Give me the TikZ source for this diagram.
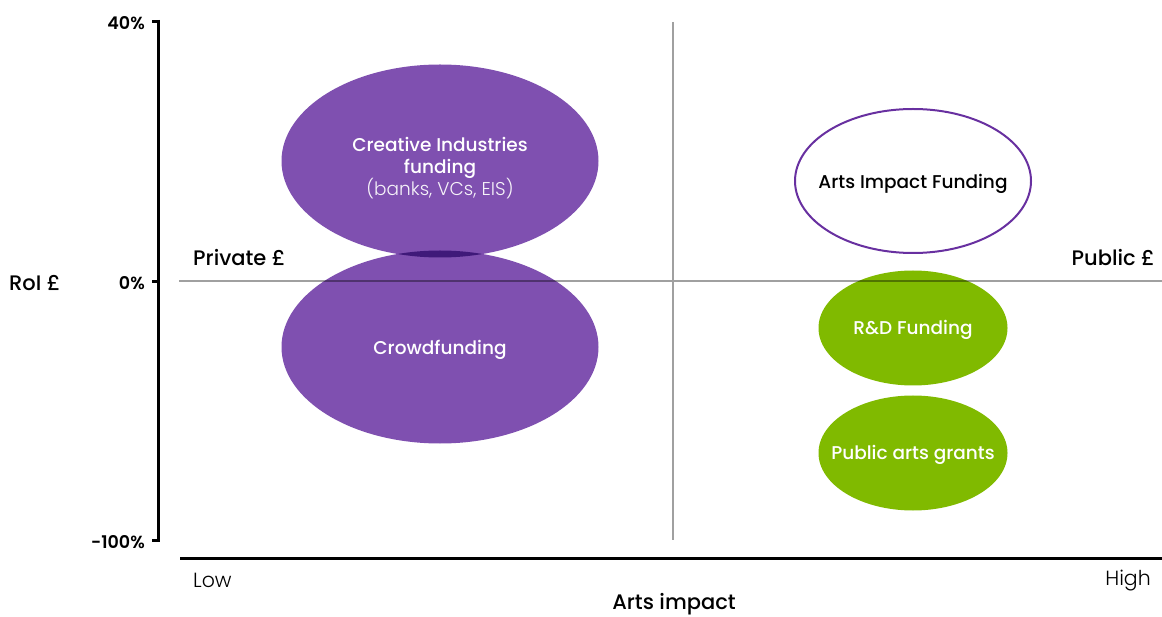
\documentclass[tikz,border=0pt]{standalone}
\usepackage{fontspec}
\setmainfont{Poppins}
\newfontfamily\med{Poppins Medium}
\newfontfamily\lite{Poppins Light}
\newfontfamily\semi{Poppins SemiBold}
\usetikzlibrary{shapes.geometric}
\definecolor{purp}{RGB}{127,80,176}
\definecolor{purpline}{RGB}{104,48,160}
\definecolor{grn}{RGB}{128,186,0}
\definecolor{gridgray}{RGB}{160,160,160}
\tikzset{
  lbl/.style={font=\med\fontsize{21}{24}\selectfont, inner sep=0pt, text=black},
  axnum/.style={font=\semi\fontsize{17.5}{20}\selectfont, inner sep=0pt, anchor=east},
  light/.style={font=\lite\fontsize{20.5}{24}\selectfont, inner sep=0pt, text=black},
  blob/.style={ellipse, inner sep=0pt},
  purpblob/.style={blob, fill=purp, blend mode=multiply},
  grnblob/.style={blob, fill=grn, blend mode=multiply},
  openblob/.style={ellipse, inner sep=0pt, draw=purpline, line width=2pt},
  blobtext/.style={inner sep=0pt, align=center, font=\med\fontsize{18.5}{22}\selectfont},
  axis/.style={line width=3pt, black},
  grid/.style={line width=1.3pt, gridgray}
}
\begin{document}
\begin{tikzpicture}[x=1pt,y=-1pt]
\useasboundingbox (0,0) rectangle (1162,617);
% grid lines
\coordinate (hl) at (179,281);
\coordinate (hr) at (1162,281);
\coordinate (vt) at (673,22);
\coordinate (vb) at (673,540);
\draw[grid] (hl) -- (hr);
\draw[grid] (vt) -- (vb);
% axes
\coordinate (yt) at (158,20);
\coordinate (yb) at (158,542);
\coordinate (xl) at (180,558);
\coordinate (xr) at (1162,558);
\draw[axis] (yt) -- (yb);
\draw[axis] (xl) -- (xr);
\coordinate (t1) at (152,21.5);
\coordinate (t1e) at (158,21.5);
\coordinate (t2) at (152,282);
\coordinate (t2e) at (158,282);
\coordinate (t3) at (152,540.5);
\coordinate (t3e) at (158,540.5);
\draw[axis] (t1) -- (t1e);
\draw[axis] (t2) -- (t2e);
\draw[axis] (t3) -- (t3e);
% axis labels
\node[axnum] (p40) at (145,23.5) {40\%};
\node[axnum] (p0) at (145,283.5) {0\%};
\node[axnum] (p100) at (145,542.5) {-100\%};
\node[lbl, anchor=west] (roi) at (9,283) {RoI £};
\node[lbl, anchor=west] (priv) at (193,258) {Private £};
\node[lbl, anchor=east] (pub) at (1155,258) {Public £};
\node[light, anchor=west] (low) at (193,580) {Low};
\node[light, anchor=east] (high) at (1151,581) {High};
\node[lbl] (arts) at (674,604) {Arts impact};
% blobs
\node[purpblob, minimum width=317pt, minimum height=193pt] (ci) at (440,161) {};
\node[purpblob, minimum width=317pt, minimum height=193pt] (cf) at (440,347) {};
\node[grnblob, minimum width=189pt, minimum height=115pt] (rd) at (913,328) {};
\node[grnblob, minimum width=189pt, minimum height=115pt] (pg) at (913,453) {};
\node[openblob, minimum width=236pt, minimum height=144pt] (aif) at (913,181) {};
\node[blobtext, text=white] (citext) at (440,168) {Creative Industries\\funding\\[-2pt]{\lite\fontsize{18.5}{20}\selectfont\color{white!93!purp}(banks, VCs, EIS)}};
\node[blobtext, text=white] (cftext) at (440,350) {Crowdfunding};
\node[blobtext, text=white] (rdtext) at (913,330) {R\&D Funding};
\node[blobtext, text=white] (pgtext) at (913,455) {Public arts grants};
\node[blobtext, text=black] (aiftext) at (913,184) {Arts Impact Funding};
\end{tikzpicture}
\end{document}
